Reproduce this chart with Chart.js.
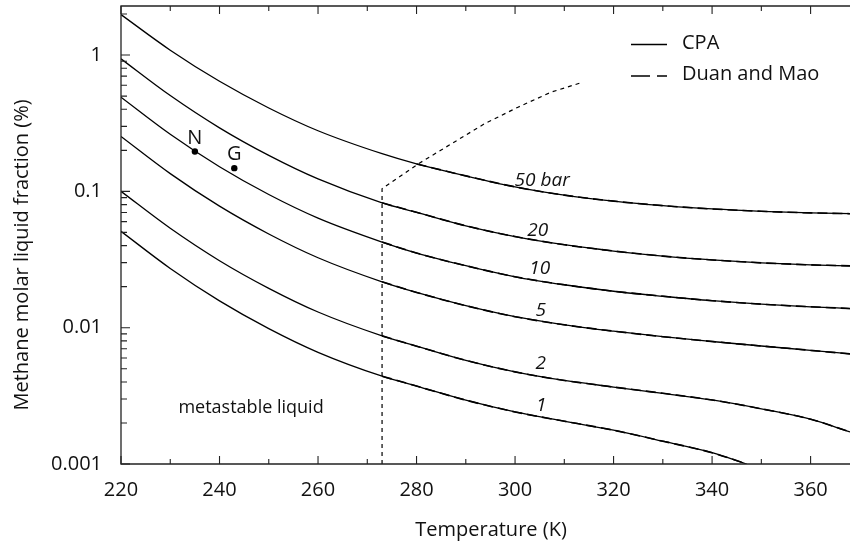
<!DOCTYPE html>
<html>
<head>
<meta charset="utf-8">
<script src="https://cdn.jsdelivr.net/npm/chart.js@4.4.1/dist/chart.umd.min.js"></script>
<style>
  html, body { margin: 0; padding: 0; background: #fff; }
</style>
</head>
<body>
<canvas id="chart" width="854" height="546"></canvas>
<script>
// temperatures (K) at which the curves were read
const temps = [220, 230, 240, 250, 260, 273, 280, 290, 300, 310, 320, 330, 340, 350, 360, 368];
const temps1bar = [220, 230, 240, 250, 260, 273, 280, 290, 300, 310, 320, 330, 340, 347];

// CPA methane solubility (%), one array per pressure
const cpa50 = [1.98, 1.086, 0.642, 0.409, 0.2784, 0.1889, 0.1590, 0.1299, 0.1079, 0.0938, 0.0848, 0.0786, 0.0743, 0.0714, 0.0695, 0.0686];
const cpa20 = [0.938, 0.5042, 0.2923, 0.1835, 0.1233, 0.0824, 0.0702, 0.0559, 0.0466, 0.0406, 0.0365, 0.0335, 0.0314, 0.0299, 0.0289, 0.0284];
const cpa10 = [0.4906, 0.2624, 0.1517, 0.0949, 0.0637, 0.0425, 0.0353, 0.0285, 0.02363, 0.02065, 0.01851, 0.01701, 0.01577, 0.01487, 0.01423, 0.01382];
const cpa5 = [0.2529, 0.1350, 0.0779, 0.0487, 0.0326, 0.0217, 0.01814, 0.01450, 0.01204, 0.01050, 0.00943, 0.00859, 0.00792, 0.00734, 0.00682, 0.00642];
const cpa2 = [0.100, 0.0536, 0.0310, 0.01944, 0.01303, 0.00871, 0.00732, 0.00576, 0.00474, 0.00410, 0.00367, 0.00330, 0.00295, 0.00254, 0.00213, 0.00172];
const cpa1 = [0.0509, 0.0272, 0.01574, 0.00985, 0.00660, 0.00441, 0.00373, 0.00294, 0.00241, 0.00206, 0.00177, 0.00147, 0.00121, 0.00100];

// Duan and Mao model, only above 273 K (280 K for 50 bar)
const duanTemps = [273, 280, 290, 300, 310, 320, 330, 340, 350, 360, 368];
const duanTemps1bar = [273, 280, 290, 300, 310, 320, 330, 340, 347];
const duan50 = [null, 0.1590, 0.1299, 0.1079, 0.0938, 0.0848, 0.0786, 0.0743, 0.0714, 0.0695, 0.0686];
const duan20 = [0.0824, 0.0702, 0.0559, 0.0466, 0.0406, 0.0365, 0.0335, 0.0314, 0.0299, 0.0289, 0.0284];
const duan10 = [0.0425, 0.0353, 0.0285, 0.02363, 0.02065, 0.01851, 0.01701, 0.01577, 0.01487, 0.01423, 0.01382];
const duan5 = [0.0217, 0.01814, 0.01450, 0.01204, 0.01050, 0.00943, 0.00859, 0.00792, 0.00734, 0.00682, 0.00642];
const duan2 = [0.00871, 0.00732, 0.00576, 0.00474, 0.00410, 0.00367, 0.00330, 0.00295, 0.00254, 0.00213, 0.00172];
const duan1 = [0.00441, 0.00373, 0.00294, 0.00241, 0.00206, 0.00177, 0.00147, 0.00121, 0.00100];

// metastable liquid boundary (dashed)
const boundT = [273, 273, 280.4, 287.1, 293.8, 300.6, 307.3, 313.1];
const boundY = [0.001, 0.1046, 0.1596, 0.2236, 0.3133, 0.4146, 0.5339, 0.6215];

// measured points
const pointNames = ['N', 'G'];
const pointT = [235, 243];
const pointY = [0.196, 0.148];

// curve labels
const curveLabels = ['50 bar', '20', '10', '5', '2', '1'];
const curveLabelT = [305.5, 304.6, 305.0, 305.2, 305.2, 305.3];
const curveLabelY = [0.120, 0.0518, 0.0273, 0.0134, 0.00545, 0.00268];

// axes
const xTicks = [220, 240, 260, 280, 300, 320, 340, 360];
const xMinorTicks = [230, 250, 270, 290, 310, 330, 350];
const yTicks = [0.001, 0.01, 0.1, 1];
const yTickLabels = ['0.001', '0.01', '0.1', '1'];
const yMinorTicks = [0.002, 0.003, 0.004, 0.005, 0.006, 0.007, 0.008, 0.009,
  0.02, 0.03, 0.04, 0.05, 0.06, 0.07, 0.08, 0.09,
  0.2, 0.3, 0.4, 0.5, 0.6, 0.7, 0.8, 0.9, 2];

const FONT = "'Open Sans', sans-serif";
const INK = '#111';

const pts = (xs, ys) => xs.map((t, i) => ({ x: t, y: ys[i] })).filter(p => p.y != null);

function cpaSet(xs, ys) {
    return { data: pts(xs, ys), borderColor: '#000', borderWidth: 1.3, pointRadius: 0,
        cubicInterpolationMode: 'monotone', fill: false };
}
function duanSet(xs, ys) {
    return { data: pts(xs, ys), borderColor: '#000', borderWidth: 1.6, borderDash: [10, 5],
        pointRadius: 0, cubicInterpolationMode: 'monotone', fill: false };
}

const decor = {
    id: 'decor',
    afterDatasetsDraw(chart) {
        const { ctx, chartArea: a, scales: { x, y } } = chart;
        ctx.save();

        // frame: left, bottom, top (no right edge)
        ctx.strokeStyle = '#222';
        ctx.lineWidth = 1.3;
        ctx.setLineDash([]);
        ctx.beginPath();
        ctx.moveTo(a.right, a.top);
        ctx.lineTo(a.left, a.top);
        ctx.lineTo(a.left, a.bottom);
        ctx.lineTo(a.right, a.bottom);
        ctx.stroke();

        ctx.lineWidth = 1.1;
        ctx.beginPath();
        const xt = (v, len) => {
            const px = x.getPixelForValue(v);
            ctx.moveTo(px, a.bottom); ctx.lineTo(px, a.bottom - len);
            ctx.moveTo(px, a.top); ctx.lineTo(px, a.top + len);
        };
        xTicks.forEach(v => xt(v, 8));
        xMinorTicks.forEach(v => xt(v, 5));
        const yt = (v, len) => {
            const py = y.getPixelForValue(v);
            ctx.moveTo(a.left, py); ctx.lineTo(a.left + len, py);
        };
        yTicks.forEach(v => yt(v, 9));
        yMinorTicks.forEach(v => yt(v, 6));
        ctx.stroke();

        // region text
        ctx.fillStyle = INK;
        ctx.textBaseline = 'middle';
        ctx.textAlign = 'center';
        ctx.font = `18px ${FONT}`;
        ctx.fillText('metastable liquid', x.getPixelForValue(246.4), y.getPixelForValue(0.00257));

        // curve labels
        ctx.font = `italic 19px ${FONT}`;
        curveLabels.forEach((s, i) => {
            ctx.fillText(s, x.getPixelForValue(curveLabelT[i]), y.getPixelForValue(curveLabelY[i]));
        });

        // point labels
        ctx.font = `20px ${FONT}`;
        ctx.textBaseline = 'alphabetic';
        pointNames.forEach((s, i) => {
            ctx.fillText(s, x.getPixelForValue(pointT[i]), y.getPixelForValue(pointY[i]) - 8);
        });

        // legend
        const lx = 631, lx2 = 667;
        ctx.strokeStyle = '#000';
        ctx.lineWidth = 1.4;
        ctx.beginPath(); ctx.moveTo(lx, 44.5); ctx.lineTo(lx2, 44.5); ctx.stroke();
        ctx.setLineDash([19, 7]);
        ctx.beginPath(); ctx.moveTo(lx, 76); ctx.lineTo(lx2, 76); ctx.stroke();
        ctx.setLineDash([]);
        ctx.textAlign = 'left';
        ctx.textBaseline = 'middle';
        ctx.font = `20px ${FONT}`;
        ctx.fillText('CPA', 682, 43);
        ctx.fillText('Duan and Mao', 682, 74);

        // axis titles
        ctx.textAlign = 'center';
        ctx.fillText('Temperature (K)', 491, 530);
        ctx.translate(22, 255);
        ctx.rotate(-Math.PI / 2);
        ctx.fillText('Methane molar liquid fraction (%)', 0, 0);
        ctx.restore();
    }
};

new Chart(document.getElementById('chart'), {
    type: 'line',
    data: {
        datasets: [
            cpaSet(temps, cpa50), cpaSet(temps, cpa20), cpaSet(temps, cpa10),
            cpaSet(temps, cpa5), cpaSet(temps, cpa2), cpaSet(temps1bar, cpa1),
            duanSet(duanTemps, duan50), duanSet(duanTemps, duan20), duanSet(duanTemps, duan10),
            duanSet(duanTemps, duan5), duanSet(duanTemps, duan2), duanSet(duanTemps1bar, duan1),
            { data: pts(boundT, boundY), borderColor: '#000', borderWidth: 1.2, borderDash: [4, 4],
              pointRadius: 0, tension: 0, fill: false },
            { data: pts(pointT, pointY), showLine: false, pointRadius: 3.2,
              pointBackgroundColor: '#000', pointBorderColor: '#000', borderWidth: 0 }
        ]
    },
    options: {
        responsive: false,
        animation: false,
        layout: { padding: { top: 6, right: 0, left: 0, bottom: 0 } },
        plugins: { legend: { display: false }, tooltip: { enabled: false } },
        scales: {
            x: {
                type: 'linear', min: 220, max: 368, bounds: 'data',
                afterBuildTicks: s => { s.ticks = xTicks.map(v => ({ value: v })); },
                afterFit: s => { s.height = 82; s.paddingLeft = 0; s.paddingRight = 0; },
                grid: { display: false, drawTicks: false },
                border: { display: false },
                ticks: { padding: 14, color: INK, font: { family: FONT, size: 20 }, maxRotation: 0 }
            },
            y: {
                type: 'logarithmic', min: 0.001, max: 2.29, bounds: 'data',
                afterBuildTicks: s => { s.ticks = yTicks.map(v => ({ value: v })); },
                afterFit: s => { s.width = 121; s.paddingTop = 0; s.paddingBottom = 0; },
                grid: { display: false, drawTicks: false },
                border: { display: false },
                ticks: { padding: 19, color: INK, font: { family: FONT, size: 20 },
                    callback: (v, i) => yTickLabels[i] }
            }
        }
    },
    plugins: [decor]
});
</script>
</body>
</html>
